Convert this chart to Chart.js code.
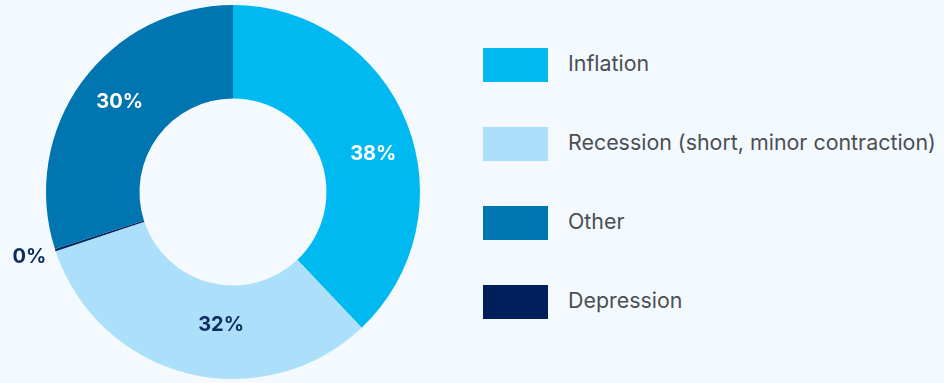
<!DOCTYPE html>
<html lang="en">
<head>
    <meta charset="UTF-8">
    <title>Economic Outlook</title>
    <script src="https://cdn.jsdelivr.net/npm/chart.js@4.4.0/dist/chart.umd.min.js"></script>
    <style>
        html, body { margin: 0; padding: 0; background: #f3f9fd; }
        body { width: 944px; height: 383px; position: relative; overflow: hidden; font-family: Inter, "Noto Sans", sans-serif; }
        .chart-box { position: absolute; left: 0; top: 0; width: 466px; height: 383px; }
        #legend { position: absolute; left: 483px; top: 48px; margin: 0; padding: 0; list-style: none; }
        #legend li { display: flex; align-items: center; height: 34px; margin-bottom: 45px; }
        #legend .swatch { width: 65px; height: 34px; margin-right: 20px; flex: none; }
        #legend .txt { font-size: 21.4px; line-height: 21px; color: #4b4f55; white-space: nowrap; position: relative; top: -2px; }
    </style>
</head>
<body>
    <div class="chart-box"><canvas id="myChart"></canvas></div>
    <ul id="legend"></ul>

    <script>
        // Data (drawing order, clockwise from top)
        const categories = ['Inflation', 'Recession (short, minor contraction)', 'Depression', 'Other'];
        const shares = [38, 32, 0.2, 30];
        const colors = ['#00b9f1', '#acdffa', '#00205b', '#0075b0'];
        const labelColors = ['#ffffff', '#0c2c5e', '#0c2c5e', '#ffffff'];
        // legend lists the slices in a different order
        const legendOrder = [0, 1, 3, 2];
        // small nudges so the % labels sit where the original put them
        const labelNudge = [[10, 14], [22, -3], [-7, 1], [0, -7]];

        const legendEl = document.getElementById('legend');
        legendOrder.forEach(i => {
            const li = document.createElement('li');
            li.innerHTML = '<span class="swatch" style="background:' + colors[i] + '"></span><span class="txt">' + categories[i] + '</span>';
            legendEl.appendChild(li);
        });

        // percentage labels; tiny slices get their label outside the ring
        const sliceLabels = {
            id: 'sliceLabels',
            afterDatasetsDraw(chart) {
                const ctx = chart.ctx;
                const meta = chart.getDatasetMeta(0);
                ctx.save();
                ctx.font = 'bold 20px Inter, "Noto Sans", sans-serif';
                ctx.textAlign = 'center';
                ctx.textBaseline = 'middle';
                meta.data.forEach((arc, i) => {
                    const val = shares[i];
                    const p = arc.getProps(['x', 'y', 'startAngle', 'endAngle', 'innerRadius', 'outerRadius']);
                    const mid = (p.startAngle + p.endAngle) / 2;
                    let r = (p.innerRadius + p.outerRadius) / 2;
                    if (val < 3) r = p.outerRadius + 20;
                    ctx.fillStyle = labelColors[i];
                    ctx.fillText(Math.round(val) + '%',
                        p.x + Math.cos(mid) * r + labelNudge[i][0],
                        p.y + Math.sin(mid) * r + labelNudge[i][1]);
                });
                ctx.restore();
            }
        };

        new Chart(document.getElementById('myChart'), {
            type: 'doughnut',
            data: {
                labels: categories,
                datasets: [{
                    data: shares,
                    backgroundColor: colors,
                    borderWidth: 0
                }]
            },
            options: {
                responsive: true,
                maintainAspectRatio: false,
                animation: false,
                cutout: '50%',
                layout: { padding: { top: 5, bottom: 4 } },
                plugins: {
                    legend: { display: false },
                    tooltip: { enabled: false }
                }
            },
            plugins: [sliceLabels]
        });
    </script>
</body>
</html>
